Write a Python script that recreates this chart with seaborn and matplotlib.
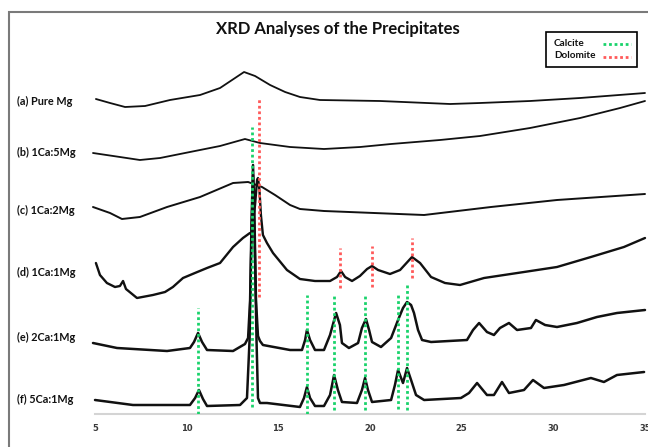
"""
XRD patterns of the precipitates, offset-stacked, with calcite and
dolomite reference positions.
"""

import matplotlib
matplotlib.use("Agg")
import matplotlib.pyplot as plt
from matplotlib.lines import Line2D
from matplotlib.patches import Rectangle
import seaborn as sns

# ---- data (2-theta in degrees, offset-stacked intensity in a.u.) ----
two_theta_a = [5.05, 5.82, 6.64, 7.73, 9.09, 10.73, 11.82, 12.64, 13.13, 13.73,
               14.55, 15.37, 16.18, 17.27, 20.55, 24.37, 26.00, 28.73, 31.46, 35.00]
counts_a = [315, 311, 307, 308, 314, 319, 326, 336, 342, 338,
            329, 322, 317, 314, 313, 310, 311, 313, 316, 321]

two_theta_b = [4.89, 6.36, 7.45, 8.55, 10.18, 11.82, 13.18, 14.00, 15.64, 17.49,
               19.46, 21.15, 23.82, 26.00, 28.73, 31.46, 33.64, 35.00]
counts_b = [261, 257, 254, 256, 262, 268, 275, 271, 267, 265,
            267, 270, 274, 278, 286, 296, 306, 313]

two_theta_c = [4.89, 5.82, 6.47, 7.45, 8.93, 10.73, 12.53, 13.35, 14.11, 14.82,
               15.64, 16.18, 17.49, 20.22, 22.95, 26.60, 30.20, 35.00]
counts_c = [207, 201, 195, 197, 207, 217, 231, 232, 227, 219,
            209, 205, 203, 201, 199, 207, 214, 220]

two_theta_d = [5.05, 5.27, 5.65, 6.09, 6.36, 6.53, 6.69, 7.29, 8.16, 8.82,
               9.25, 9.80, 10.45, 11.11, 11.82, 12.53, 13.07, 13.45, 13.56, 13.73,
               13.84, 13.89, 13.97, 14.05, 14.16, 14.38, 14.71, 15.47, 16.18, 17.00,
               17.82, 18.20, 18.42, 18.64, 19.02, 19.45, 19.84, 20.11, 20.44, 21.09,
               21.64, 22.29, 22.73, 23.33, 24.09, 24.91, 26.22, 28.40, 30.20, 32.05,
               33.85, 35.00]
counts_d = [151, 139, 131, 127, 128, 133, 125, 116, 119, 122,
            127, 136, 141, 146, 151, 167, 176, 181, 181, 209,
            234, 236, 224, 199, 179, 171, 161, 144, 135, 133,
            133, 137, 143, 137, 133, 138, 145, 148, 144, 140,
            144, 157, 151, 137, 131, 129, 136, 142, 147, 157,
            167, 176]

two_theta_e = [4.89, 6.20, 8.93, 10.18, 10.40, 10.62, 10.84, 11.11, 12.53, 13.18,
               13.35, 13.46, 13.54, 13.62, 13.70, 13.78, 13.89, 14.00, 14.16, 15.64,
               16.29, 16.46, 16.56, 16.73, 17.00, 17.49, 17.82, 18.15, 18.36, 18.47,
               18.85, 19.35, 19.56, 19.78, 19.95, 20.11, 20.60, 21.15, 21.53, 21.80,
               22.02, 22.24, 22.40, 22.62, 22.84, 23.33, 25.29, 25.62, 25.95, 26.38,
               26.76, 27.09, 27.58, 28.02, 28.78, 29.05, 29.55, 30.20, 31.29, 32.38,
               33.47, 35.00]
counts_e = [71, 66, 63, 66, 72, 81, 72, 64, 63, 70,
            76, 114, 194, 249, 194, 114, 78, 73, 69, 64,
            64, 74, 84, 74, 64, 64, 79, 101, 89, 71,
            66, 71, 86, 95, 84, 72, 67, 76, 94, 106,
            112, 109, 101, 84, 74, 72, 74, 84, 91, 82,
            79, 86, 91, 84, 86, 94, 89, 87, 91, 97,
            101, 104]

two_theta_f = [5.00, 7.07, 10.18, 10.46, 10.67, 10.89, 11.11, 12.91, 13.29, 13.43,
               13.51, 13.62, 13.73, 13.81, 13.89, 14.00, 14.38, 16.18, 16.40, 16.56,
               16.73, 17.00, 17.49, 17.82, 18.04, 18.25, 18.47, 19.29, 19.56, 19.73,
               19.89, 20.11, 21.15, 21.36, 21.53, 21.80, 22.02, 22.24, 22.51, 22.95,
               24.96, 25.40, 25.84, 26.38, 26.76, 27.20, 27.58, 28.40, 28.89, 29.49,
               30.58, 32.05, 32.76, 33.47, 34.95]
counts_f = [14, 9, 9, 16, 24, 15, 8, 9, 16, 74,
            154, 239, 154, 74, 16, 11, 11, 7, 16, 27,
            16, 8, 8, 19, 39, 24, 12, 11, 24, 36,
            24, 12, 14, 29, 44, 31, 46, 34, 19, 14,
            16, 21, 31, 19, 19, 32, 21, 24, 34, 26,
            29, 36, 32, 39, 42]

sample_labels = ["(a) Pure Mg", "(b) 1Ca:5Mg", "(c) 1Ca:2Mg",
                 "(d) 1Ca:1Mg", "(e) 2Ca:1Mg", "(f) 5Ca:1Mg"]
label_levels = [313, 262, 204, 142, 77, 15]

calcite_pos = [10.62, 13.56, 16.55, 18.04, 19.73, 21.53, 22.02]
calcite_top = [106, 287, 119, 119, 119, 119, 131]
calcite_bottom = [0, 7, 0, 4, 4, 5, 4]

dolomite_pos = [13.92, 18.37, 20.11, 22.29]
dolomite_top = [317, 166, 168, 176]
dolomite_bottom = [117, 126, 127, 136]

phase_names = ["Calcite", "Dolomite"]
x_ticks = [5, 10, 15, 20, 25, 30, 35]

GREEN = "#19d36b"
RED = "#ff5a5a"

sns.set_theme(style="white")
plt.rcParams["font.family"] = ["Lato", "DejaVu Sans"]

W, H = 648, 447
fig = plt.figure(figsize=(W / 100, H / 100), dpi=100)
ax = fig.add_axes([95 / W, 33 / H, 550 / W, 402 / H])

patterns = [(two_theta_a, counts_a), (two_theta_b, counts_b), (two_theta_c, counts_c),
            (two_theta_d, counts_d), (two_theta_e, counts_e), (two_theta_f, counts_f)]
widths = [1.3, 1.3, 1.4, 1.7, 1.8, 1.8]
for (tt, cnt), lw in zip(patterns, widths):
    sns.lineplot(x=tt, y=cnt, ax=ax, color="#111111", lw=lw,
                 estimator=None, sort=False, clip_on=False, zorder=3)

dot = (0, (1, 1))
ax.vlines(calcite_pos, calcite_bottom, calcite_top, colors=GREEN,
          linestyles=dot, lw=2, zorder=4)
ax.vlines(dolomite_pos, dolomite_bottom, dolomite_top, colors=RED,
          linestyles=dot, lw=2, zorder=4)

ax.set_xlim(5, 35)
ax.set_ylim(0, 402)
ax.set_xticks(x_ticks)
ax.set_yticks([])
ax.set_xlabel("")
ax.set_ylabel("")
for s in ["top", "left", "right"]:
    ax.spines[s].set_visible(False)
ax.spines["bottom"].set_color("#d4d4d4")
ax.spines["bottom"].set_linewidth(1.5)
ax.tick_params(axis="x", direction="out", length=3, width=1, color="#d4d4d4",
               pad=4, labelsize=6, labelcolor="#3a3a3a")
for lab in ax.get_xticklabels():
    lab.set_fontfamily("DejaVu Sans")
    lab.set_fontweight("bold")
ax.patch.set_alpha(0)

for txt, lev in zip(sample_labels, label_levels):
    ax.text(-0.141, lev, txt, transform=ax.get_yaxis_transform(),
            ha="left", va="center", fontsize=7.8, fontweight="bold", color="#111111")

fig.text(338 / W, 1 - 29 / H, "XRD Analyses of the Precipitates",
         ha="center", va="center", fontsize=12, fontweight="bold", color="#111111")

# legend box: text on the left, dotted sample on the right
fig.add_artist(Rectangle((546 / W, 1 - 67 / H), 91 / W, 35 / H,
                         transform=fig.transFigure, fill=False,
                         edgecolor="black", lw=1.2))
for name, col, yy in zip(phase_names, [GREEN, RED], [43, 56]):
    fig.text(554 / W, 1 - yy / H, name, ha="left", va="center",
             fontsize=7.2, fontweight="bold", color="#111111")
    fig.add_artist(Line2D([603 / W, 631 / W], [1 - (yy + 1) / H] * 2,
                          transform=fig.transFigure, color=col, lw=2, ls=dot))

fig.add_artist(Rectangle((9 / W, -0.1), 2, 1.1 - 12 / H, transform=fig.transFigure,
                         fill=False, edgecolor="#7a7a7a", lw=1.5))

fig.savefig("out.png", dpi=100)
plt.close(fig)
